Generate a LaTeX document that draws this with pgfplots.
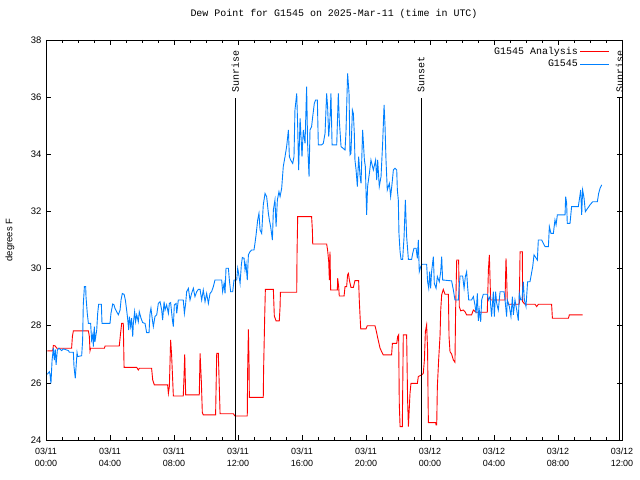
\documentclass[border=0pt]{standalone}
\usepackage{fontspec}
\setmainfont{Liberation Sans}
\newfontfamily\monofont{Liberation Mono}
\usepackage{pgfplots}
\usepackage{pgfplotstable}
\pgfplotsset{compat=1.18}
\definecolor{anared}{RGB}{255,0,0}
\definecolor{obsblue}{RGB}{0,128,255}
\pgfplotsset{
  longline/.style={legend image code/.code={\draw[##1] plot coordinates {(0bp,0bp) (29bp,0bp)};}},
}

\pgfplotstableread{
t v
0.08 27.12
0.42 27.12
0.46 27.31
0.58 27.29
0.67 27.21
1.60 27.21
1.65 27.62
1.71 27.82
2.65 27.82
2.71 27.62
2.75 27.12
2.79 27.21
3.65 27.21
3.69 27.29
4.58 27.29
4.65 27.68
4.73 28.08
4.83 28.08
4.88 26.54
5.67 26.54
5.77 26.45
5.83 26.51
6.60 26.51
6.67 26.10
6.77 25.93
7.60 25.93
7.65 25.63
7.71 25.87
7.79 27.50
7.85 26.98
7.96 25.54
8.58 25.54
8.63 26.28
8.67 27.00
8.73 25.58
9.58 25.58
9.63 27.03
9.71 26.04
9.77 24.96
9.83 24.88
10.60 24.88
10.67 27.03
10.77 27.03
10.88 24.92
11.71 24.92
11.81 24.84
12.58 24.84
12.60 26.33
12.65 27.87
12.69 26.68
12.71 25.49
13.58 25.49
13.60 26.45
13.67 28.34
13.71 29.27
14.21 29.27
14.27 28.34
14.38 28.17
14.58 28.17
14.63 28.67
14.65 29.17
15.67 29.17
15.69 30.53
15.73 31.82
16.60 31.82
16.65 31.33
16.67 30.86
17.54 30.86
17.60 30.65
17.67 30.24
17.71 29.60
17.75 30.59
17.79 29.25
18.21 29.25
18.23 29.66
18.29 29.37
18.33 29.04
18.63 29.04
18.69 29.37
18.79 29.37
18.85 29.78
18.90 29.83
18.96 29.60
19.06 29.34
19.21 29.34
19.31 29.58
19.54 29.58
19.58 28.90
19.63 28.32
19.67 27.89
20.00 27.89
20.08 28.00
20.56 28.00
20.63 27.85
20.73 27.58
20.88 27.21
20.98 27.09
21.08 26.98
21.60 26.98
21.65 27.38
21.92 27.38
21.98 27.62
22.04 27.68
22.08 25.28
22.13 24.47
22.27 24.47
22.33 27.68
22.54 27.68
22.60 25.40
22.65 24.47
22.69 24.93
22.75 25.63
22.81 25.98
23.21 25.98
23.27 26.22
23.48 26.28
23.58 26.33
23.65 26.80
23.71 27.79
23.79 28.03
23.85 27.15
23.88 25.40
23.90 24.61
24.35 24.61
24.38 24.53
24.42 24.53
24.46 25.87
24.54 26.80
24.63 27.68
24.67 28.55
24.73 29.08
24.83 29.27
24.94 29.10
25.15 29.10
25.19 27.62
25.25 27.09
25.35 27.01
25.46 26.80
25.56 26.72
25.60 28.49
25.67 30.30
25.79 30.30
25.83 28.67
25.92 28.52
26.08 28.55
26.19 28.49
26.29 28.38
26.60 28.38
26.71 28.55
26.88 28.47
27.58 28.47
27.65 29.95
27.71 30.48
27.79 28.90
28.69 28.90
28.75 30.36
28.79 29.72
28.83 28.90
28.90 28.75
29.58 28.75
29.63 30.59
29.77 30.59
29.79 28.84
29.94 28.75
30.56 28.75
30.67 28.67
30.77 28.75
31.60 28.75
31.65 28.26
32.65 28.26
32.71 28.38
33.54 28.38
}\analysis

\pgfplotstableread{
t v
0.08 26.30
0.21 26.39
0.25 26.30
0.31 25.98
0.38 26.80
0.46 27.21
0.52 26.80
0.58 27.17
0.63 26.63
0.71 27.15
0.81 27.21
0.98 27.13
1.08 27.19
1.40 27.13
1.46 27.07
1.71 27.07
1.75 26.57
1.83 26.16
1.88 26.57
1.94 27.06
1.98 26.92
2.23 26.95
2.29 27.50
2.33 28.73
2.40 29.37
2.48 29.37
2.50 29.02
2.58 28.43
2.65 28.08
2.79 28.08
2.85 27.50
2.92 27.68
2.96 27.27
3.02 27.97
3.06 27.44
3.17 27.85
3.23 28.43
3.29 28.75
3.46 28.75
3.50 28.08
4.00 28.08
4.06 28.43
4.17 28.76
4.25 28.73
4.31 28.61
4.42 28.49
4.52 28.38
4.63 28.55
4.69 28.90
4.77 29.13
4.88 29.10
4.96 28.90
5.04 28.55
5.10 28.26
5.17 27.85
5.21 28.32
5.29 27.97
5.35 28.26
5.42 27.62
5.46 28.08
5.54 28.49
5.60 28.14
5.67 28.38
5.77 28.14
5.83 28.49
5.94 28.26
6.04 28.11
6.19 28.08
6.29 27.76
6.44 27.76
6.50 28.43
6.56 28.61
6.65 28.20
6.71 27.97
6.81 28.32
6.92 28.38
7.02 28.78
7.13 28.84
7.23 28.55
7.29 28.20
7.38 28.84
7.44 28.55
7.54 28.73
7.65 28.43
7.71 28.78
7.79 28.81
7.90 28.20
7.96 27.97
8.02 28.73
8.13 28.78
8.17 28.43
8.27 28.90
8.58 28.90
8.65 28.43
8.73 28.78
8.79 29.19
8.90 29.31
9.00 28.90
9.10 29.13
9.21 29.31
9.31 29.02
9.42 29.19
9.52 29.27
9.63 29.27
9.73 28.90
9.83 29.25
9.94 28.84
10.04 29.13
10.15 28.78
10.25 29.13
10.35 29.19
10.46 29.37
10.56 29.60
10.98 29.60
11.04 29.19
11.13 29.48
11.19 29.13
11.25 30.01
11.40 30.01
11.46 29.60
11.54 29.19
11.67 29.19
11.75 29.60
11.92 29.60
11.98 30.01
12.02 29.89
12.13 29.48
12.21 30.13
12.27 30.39
12.38 30.36
12.44 29.95
12.50 30.18
12.58 29.60
12.65 30.48
12.75 30.59
12.85 30.65
13.00 30.65
13.06 30.88
13.13 31.18
13.23 31.70
13.31 31.93
13.38 31.35
13.48 31.23
13.58 32.23
13.69 32.63
13.79 32.52
13.90 31.93
13.96 31.70
14.04 31.47
14.15 31.00
14.21 32.05
14.31 32.40
14.38 31.47
14.46 32.40
14.56 32.69
14.63 32.52
14.73 32.81
14.83 33.57
14.94 33.92
15.04 34.27
15.15 34.85
15.21 33.92
15.29 33.80
15.42 33.68
15.50 33.92
15.56 35.55
15.67 36.13
15.73 34.97
15.79 33.45
15.88 35.26
15.94 34.62
16.00 33.92
16.08 34.85
16.19 34.38
16.29 36.37
16.35 34.38
16.44 33.22
16.50 34.85
16.60 34.97
16.67 35.32
16.77 35.78
16.85 35.90
16.96 35.90
17.02 34.33
17.23 34.33
17.33 34.38
17.44 34.73
17.54 36.13
17.60 35.67
17.67 34.62
17.75 35.26
17.81 36.13
17.88 34.33
18.17 34.33
18.27 36.13
18.33 35.20
18.44 34.27
18.69 34.15
18.75 34.79
18.85 36.83
18.94 36.13
19.00 33.98
19.06 34.03
19.15 35.55
19.21 35.43
19.27 34.73
19.31 33.80
19.38 33.45
19.46 32.87
19.54 33.92
19.63 33.22
19.69 32.98
19.79 34.85
19.90 33.80
19.96 33.57
20.04 31.88
20.10 32.87
20.21 33.33
20.31 33.80
20.46 33.45
20.60 33.80
20.67 33.10
20.73 33.80
20.83 32.87
20.94 33.22
21.04 34.38
21.13 35.73
21.19 34.97
21.25 33.80
21.33 32.75
21.46 32.98
21.54 32.52
21.63 32.98
21.71 33.45
21.81 33.51
21.92 33.45
21.96 32.75
22.02 32.40
22.06 31.23
22.13 30.59
22.19 30.32
22.29 30.32
22.38 31.12
22.46 32.40
22.54 31.12
22.65 30.32
22.85 30.32
22.92 30.53
23.00 30.71
23.13 30.71
23.21 30.36
23.27 31.00
23.33 29.89
23.42 30.07
23.50 30.15
23.79 30.15
23.85 29.54
23.92 29.31
23.98 29.89
24.04 29.31
24.10 29.89
24.21 30.42
24.27 29.48
24.38 29.31
24.46 29.72
24.58 29.54
24.67 29.89
24.73 30.42
24.79 29.60
25.35 29.57
25.46 29.25
25.56 28.90
25.77 28.90
25.88 29.74
26.04 29.74
26.13 29.31
26.21 29.72
26.29 29.89
26.35 29.37
26.42 28.90
26.60 28.90
26.71 29.02
26.81 28.73
26.88 28.43
26.96 29.13
27.02 28.17
27.08 28.55
27.17 28.14
27.23 28.90
27.33 29.10
27.58 29.10
27.65 28.90
27.75 29.02
27.85 28.32
27.96 29.19
28.02 28.32
28.10 29.19
28.17 28.78
28.27 28.55
28.38 29.19
28.63 29.19
28.69 28.90
28.75 28.55
28.79 28.32
28.83 28.90
28.96 28.67
29.06 28.32
29.15 29.02
29.21 28.38
29.31 28.90
29.42 28.55
29.52 28.18
29.58 29.13
29.67 28.90
29.75 28.90
29.83 29.54
29.90 28.90
30.00 28.67
30.10 29.54
30.25 29.54
30.42 30.07
30.50 30.48
30.71 30.30
30.77 31.00
30.98 31.00
31.19 30.77
31.40 30.77
31.46 31.47
31.56 31.23
31.71 31.23
31.81 31.70
31.88 31.53
31.96 31.88
32.44 31.88
32.48 32.52
32.54 32.28
32.58 31.58
32.75 31.58
32.85 32.17
33.27 32.17
33.33 32.40
33.42 32.75
33.48 31.88
33.54 32.75
33.63 32.46
33.71 31.99
34.00 32.23
34.17 32.34
34.46 32.34
34.54 32.63
34.63 32.81
34.73 32.93
}\observed

\begin{document}
\begin{tikzpicture}
\useasboundingbox (-46bp,-40bp) rectangle (594bp,440bp);
\begin{axis}[
  scale only axis, width=576bp, height=400bp,
  at={(0,0)}, anchor=south west,
  xmin=0, xmax=36, ymin=24, ymax=38,
  clip=false,
  xtick={0,4,...,36}, minor x tick num=3,
  xticklabels={{03/11\\00:00},{03/11\\04:00},{03/11\\08:00},{03/11\\12:00},{03/11\\16:00},{03/11\\20:00},{03/12\\00:00},{03/12\\04:00},{03/12\\08:00},{03/12\\12:00}},
  xticklabel style={align=center, font=\fontsize{9}{12}\selectfont, inner sep=0pt, yshift=-8bp},
  ytick={24,26,...,38},
  yticklabel style={font=\fontsize{9.5}{11}\selectfont, inner sep=0pt, xshift=-4.5bp},
  /pgf/number format/assume math mode=true,
  tick align=inside,
  major tick length=5bp, minor tick length=3bp,
  every tick/.style={black, line width=0.6bp},
  axis line style={line width=0.8bp},
  title={Dew Point for G1545 on 2025-Mar-11 (time in UTC)},
  title style={font=\monofont\fontsize{10}{12}\selectfont, at={(axis description cs:0.5,1)}, anchor=center, yshift=20bp},
  ylabel={degrees F},
  ylabel style={font=\fontsize{9.5}{11}\selectfont, at={(axis description cs:-0.0625,0.5)}, anchor=center},
  legend style={draw=none, fill=none, at={(1,1)}, anchor=north east, xshift=-12bp, yshift=-5bp,
    font=\monofont\fontsize{10}{12}\selectfont, row sep=0bp, inner sep=0pt},
  legend cell align=right,
  legend plot pos=right,
  longline,
]
\addplot[anared, line width=0.9bp] table[x=t, y=v] {\analysis};
\addlegendentry{G1545 Analysis}
\addplot[obsblue, line width=0.9bp] table[x=t, y=v] {\observed};
\addlegendentry{G1545}

\addplot[black, line width=1bp, forget plot] coordinates {(11.83,24) (11.83,35.97)};
\addplot[black, line width=1bp, forget plot] coordinates {(23.44,24) (23.44,35.97)};
\addplot[black, line width=1bp, forget plot] coordinates {(35.84,24) (35.84,35.97)};
\node[rotate=90, anchor=west, inner sep=0pt, font=\monofont\fontsize{10}{12}\selectfont] at (axis cs:11.83,36.15) {Sunrise};
\node[rotate=90, anchor=west, inner sep=0pt, font=\monofont\fontsize{10}{12}\selectfont] at (axis cs:23.44,36.15) {Sunset};
\node[rotate=90, anchor=west, inner sep=0pt, font=\monofont\fontsize{10}{12}\selectfont] at (axis cs:35.84,36.15) {Sunrise};
\end{axis}
\end{tikzpicture}
\end{document}
